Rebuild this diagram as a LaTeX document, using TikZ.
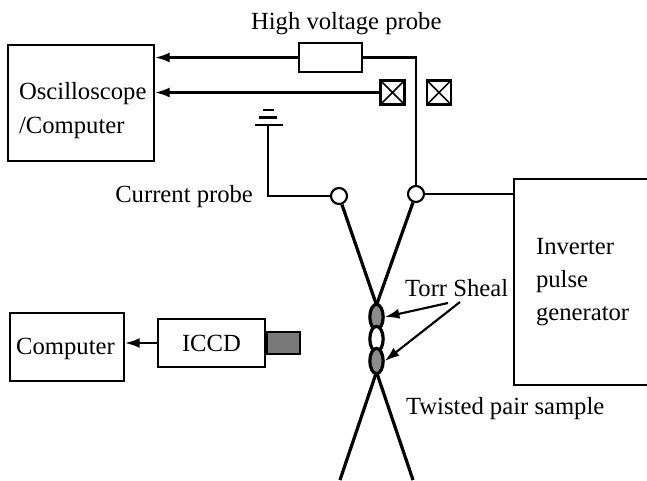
\documentclass[tikz,border=0pt]{standalone}
\usepackage{fontspec}
\setmainfont{Liberation Serif}
\usetikzlibrary{arrows.meta,shapes.geometric}
\definecolor{sealgray}{gray}{0.55}
\begin{document}
\begin{tikzpicture}[x=0.75pt,y=-0.75pt,line width=1.6pt,
  wire/.style={draw=black,line width=1.6pt},
  pair/.style={draw=black,line width=2.4pt},
  feed/.style={wire,-{Latex[length=11pt,width=7.5pt]}},
  box/.style={draw=black,line width=1.6pt,inner sep=0pt,align=left,font=\fontsize{18.5}{25}\selectfont},
  label/.style={inner sep=0pt,font=\fontsize{18.5}{24.5}\selectfont},
  xbox/.style={draw=black,line width=1.6pt,minimum size=18pt,inner sep=0pt,
    path picture={\draw [line width=1.2pt] (path picture bounding box.south west) -- (path picture bounding box.north east);
      \draw [line width=1.2pt] (path picture bounding box.north west) -- (path picture bounding box.south east);}},
  joint/.style={circle,draw=black,fill=white,line width=1.6pt,minimum size=12pt,inner sep=0pt},
  seal/.style={ellipse,draw=black,line width=2.4pt,minimum width=10pt,minimum height=19pt,inner sep=0pt}]
\useasboundingbox (0,0) rectangle (647,480);
\node (scope) [box,minimum width=109.5pt,minimum height=87pt] at (81,103) {};
\node (scopetext) [label,align=left,anchor=west,font=\fontsize{18.5}{25}\selectfont] at (18,110.5) {Oscilloscope\\/Computer};
\node (pc) [box,minimum width=85.5pt,minimum height=51pt] at (67,347) {};
\node (pctext) [label] at (65.5,349) {Computer};
\node (iccd) [box,minimum width=80pt,minimum height=36pt,align=center] at (211.5,343) {ICCD};
\node (lens) [draw=black,fill=gray!95!black,line width=1.2pt,minimum width=25pt,minimum height=16.5pt,inner sep=0pt,anchor=west] at (iccd.east) {};
\node (hvbox) [box,minimum width=47pt,minimum height=21.5pt] at (330.5,57.5) {};
\node (xa) [xbox] at (392.5,92.5) {};
\node (xb) [xbox] at (439,92.5) {};
\node (jl) [joint] at (339,196) {};
\node (jr) [joint] at (416,194) {};
\node (inv) [draw=black,line width=1.6pt,minimum width=110pt,minimum height=154.5pt,inner sep=0pt,anchor=north west] at (513,178) {};
\node (invtext) [label,align=left,anchor=west] at (535,282) {Inverter\\pulse\\generator};
\coordinate (gnd) at (268,125);
\coordinate (twa) at (376.5,305);
\coordinate (twb) at (376.5,372);
\coordinate (legl) at (340,480);
\coordinate (legr) at (413,480);
\node (hvtext) [label,anchor=base west] at (250,29) {High voltage probe};
\node (cptext) [label,anchor=base east] at (254,202.5) {Current probe};
\node (torr) [label,anchor=base west] at (404,296) {Torr Sheal};
\node (twtext) [label,anchor=base west] at (405,414.5) {Twisted pair sample};
\draw [pair] (jl) -- (twa);
\draw [pair] (jr) -- (twa);
\draw [pair] (twb) -- (legl);
\draw [pair] (twb) -- (legr);
\node (sa) [seal,fill=sealgray] at (376.5,317) {};
\node (sb) [seal,fill=white] at (376.5,339) {};
\node (sc) [seal,fill=sealgray] at (376.5,361) {};
\draw [feed] (hvbox.west) -- (hvbox.west -| scope.east);
\draw [feed] (xa.west) -- (xa.west -| scope.east);
\draw [wire] (hvbox.east) -| (jr.north);
\draw [wire] (jr.east) -- (jr.east -| inv.west);
\draw [wire] (gnd) |- (jl.west);
\draw [wire] (255,125) -- (283,125);
\draw [wire] (259,117.5) -- (277,117.5);
\draw [wire] (263,110) -- (274,110);
\draw [feed] (iccd.west) -- (iccd.west -| pc.east);
\draw [feed] (448,303) -- (sa.east);
\draw [feed] (460,302) -- (sc.east);
\end{tikzpicture}
\end{document}
